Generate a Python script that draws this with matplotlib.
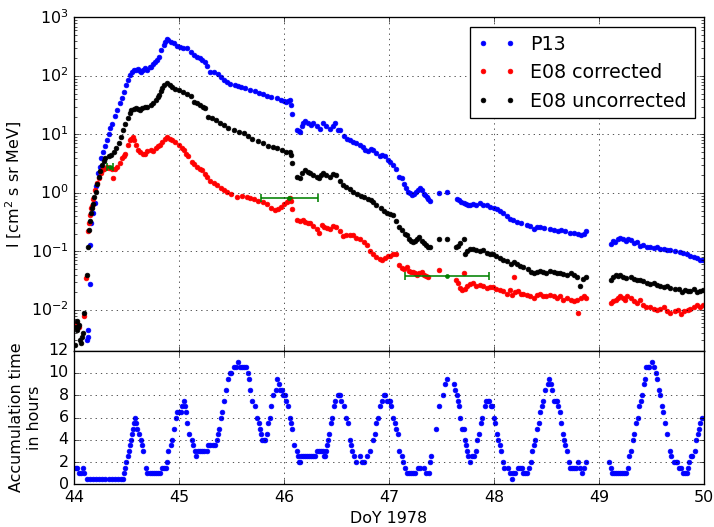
import matplotlib
matplotlib.use("Agg")
import matplotlib.pyplot as plt
import numpy as np

# P13 intensities (blue)
p13_doy = [44.12, 44.13, 44.135, 44.15, 44.155, 44.16, 44.18, 44.20, 44.21, 44.23, 44.245, 44.26, 44.28, 44.30,
           44.31, 44.33, 44.34, 44.36, 44.39, 44.41, 44.44, 44.46, 44.48, 44.50, 44.51, 44.53, 44.55, 44.57, 44.59,
           44.61, 44.63, 44.64, 44.66, 44.68, 44.70, 44.72, 44.73, 44.75, 44.77, 44.79, 44.81, 44.83, 44.855, 44.87,
           44.89, 44.90, 44.92, 44.95, 44.98, 45.01, 45.04, 45.08, 45.11, 45.14, 45.17, 45.20, 45.22, 45.25, 45.27,
           45.30, 45.33, 45.37, 45.40, 45.43, 45.46, 45.49, 45.53, 45.56, 45.59, 45.63, 45.68, 45.72, 45.76, 45.80,
           45.84, 45.88, 45.93, 45.97, 46.00, 46.02, 46.04, 46.06, 46.07, 46.08, 46.12, 46.14, 46.15, 46.17, 46.18,
           46.20, 46.23, 46.26, 46.28, 46.31, 46.34, 46.37, 46.40, 46.44, 46.47, 46.49, 46.51, 46.53, 46.57, 46.60,
           46.63, 46.66, 46.69, 46.72, 46.75, 46.77, 46.80, 46.83, 46.85, 46.88, 46.91, 46.93, 46.96, 46.99, 47.01,
           47.04, 47.07, 47.10, 47.12, 47.14, 47.16, 47.18, 47.20, 47.22, 47.24, 47.26, 47.28, 47.30, 47.31, 47.33,
           47.34, 47.36, 47.37, 47.39, 47.48, 47.55, 47.65, 47.67, 47.69, 47.71, 47.73, 47.75, 47.77, 47.80, 47.83,
           47.87, 47.90, 47.93, 47.96, 48.00, 48.03, 48.06, 48.09, 48.12, 48.15, 48.18, 48.22, 48.26, 48.31, 48.34,
           48.38, 48.41, 48.44, 48.48, 48.53, 48.57, 48.61, 48.64, 48.68, 48.72, 48.76, 48.80, 48.83, 48.86, 48.88,
           49.11, 49.13, 49.15, 49.18, 49.20, 49.23, 49.26, 49.28, 49.30, 49.33, 49.36, 49.39, 49.42, 49.46, 49.49,
           49.52, 49.55, 49.58, 49.62, 49.65, 49.68, 49.72, 49.77, 49.80, 49.84, 49.87, 49.90, 49.93, 49.96, 49.99]
p13_flux = [0.003, 0.0035, 0.0045, 0.028, 0.13, 0.30, 0.45, 0.66, 1.3, 2.2, 2.8, 4.0, 5.0, 6.3,
            7.9, 10, 13, 15, 21, 26, 35, 42, 54, 70, 85, 105, 117, 125, 129,
            132, 120, 117, 128, 135, 125, 140, 145, 160, 170, 185, 214, 280, 339, 380,
            427, 410, 380, 363, 330, 316, 300, 295, 260, 229, 215, 200, 190, 174, 150,
            117, 115, 110, 95, 85, 80, 74, 70, 68, 66, 62, 58, 55, 52, 50,
            46, 44, 42, 39, 37, 36, 38, 39, 32, 22, 12, 11.5, 11, 14, 16,
            17, 15.5, 14.5, 15.5, 14, 12.6, 16, 14, 12.6, 14, 15.5, 12, 11.7, 9.5, 8.5,
            8, 7.4, 7.0, 6.6, 6.0, 5.4, 5.2, 5.6, 5.4, 4.8, 4.2, 4.5, 4.2, 3.7, 3.4,
            3.0, 2.6, 1.9, 1.8, 1.4, 1.2, 1.05, 1.0, 0.91, 0.95, 1.05, 1.1, 1.2, 1.1, 0.95,
            0.91, 0.85, 0.8, 0.74, 1.0, 1.05, 0.79, 0.75, 0.70, 0.66, 0.64, 0.62, 0.62, 0.64, 0.62,
            0.66, 0.63, 0.62, 0.58, 0.56, 0.54, 0.50, 0.45, 0.40, 0.36, 0.34, 0.32, 0.30, 0.28, 0.27,
            0.245, 0.26, 0.26, 0.25, 0.245, 0.23, 0.22, 0.23, 0.22, 0.21, 0.21, 0.20, 0.19, 0.20, 0.22,
            0.135, 0.15, 0.145, 0.16, 0.17, 0.16, 0.15, 0.16, 0.155, 0.14, 0.145, 0.126, 0.13, 0.12, 0.12,
            0.115, 0.12, 0.112, 0.11, 0.105, 0.105, 0.10, 0.098, 0.095, 0.09, 0.085, 0.08, 0.078, 0.071, 0.07]

# E08 corrected (red)
e08c_doy = [44.02, 44.03, 44.05, 44.10, 44.11, 44.13, 44.14, 44.15, 44.16, 44.17, 44.18, 44.20, 44.22, 44.24,
            44.26, 44.27, 44.29, 44.31, 44.33, 44.36, 44.37, 44.39, 44.41, 44.44, 44.46, 44.48, 44.49, 44.51,
            44.53, 44.54, 44.56, 44.57, 44.59, 44.61, 44.63, 44.66, 44.68, 44.70, 44.73, 44.75, 44.78, 44.80,
            44.82, 44.84, 44.87, 44.89, 44.91, 44.93, 44.96, 45.00, 45.03, 45.05, 45.07, 45.09, 45.12, 45.14,
            45.17, 45.20, 45.22, 45.25, 45.27, 45.30, 45.33, 45.36, 45.40, 45.43, 45.46, 45.50, 45.55, 45.60,
            45.65, 45.68, 45.71, 45.75, 45.80, 45.84, 45.88, 45.91, 45.94, 45.97, 46.00, 46.03, 46.05, 46.06,
            46.07, 46.08, 46.12, 46.15, 46.18, 46.20, 46.23, 46.25, 46.28, 46.31, 46.33, 46.36, 46.38, 46.41,
            46.44, 46.47, 46.50, 46.53, 46.56, 46.59, 46.63, 46.66, 46.69, 46.72, 46.76, 46.79, 46.82, 46.85,
            46.88, 46.91, 46.93, 46.96, 46.99, 47.01, 47.04, 47.07, 47.10, 47.12, 47.14, 47.17, 47.19, 47.21,
            47.23, 47.25, 47.27, 47.29, 47.31, 47.33, 47.35, 47.37, 47.48, 47.64, 47.66, 47.68, 47.70, 47.71,
            47.72, 47.74, 47.77, 47.80, 47.83, 47.87, 47.90, 47.93, 47.96, 47.99, 48.02, 48.06, 48.09, 48.12,
            48.15, 48.17, 48.19, 48.20, 48.23, 48.26, 48.28, 48.31, 48.34, 48.38, 48.41, 48.44, 48.47, 48.50,
            48.53, 48.57, 48.60, 48.63, 48.66, 48.70, 48.73, 48.76, 48.79, 48.80, 48.83, 48.86, 48.88,
            49.11, 49.13, 49.16, 49.18, 49.20, 49.23, 49.25, 49.27, 49.30, 49.33, 49.36, 49.39, 49.42, 49.45,
            49.49, 49.52, 49.55, 49.58, 49.62, 49.65, 49.68, 49.72, 49.75, 49.78, 49.81, 49.85, 49.87, 49.90,
            49.93, 49.96, 49.99]
e08c_flux = [0.005, 0.006, 0.005, 0.008, 0.035, 0.22, 0.30, 0.42, 0.55, 0.6, 0.8, 1.1, 1.5, 1.8,
             2.2, 2.45, 2.6, 2.8, 2.7, 2.6, 1.8, 2.6, 2.8, 3.2, 3.9, 4.3, 4.7, 6.6,
             8.0, 8.5, 9.1, 8.0, 6.6, 5.5, 5.0, 4.7, 4.7, 5.2, 5.4, 5.2, 5.8, 6.3,
             6.6, 7.4, 8.5, 8.9, 8.3, 7.9, 7.4, 6.6, 5.8, 5.4, 4.7, 4.3, 3.4, 3.1,
             2.8, 2.6, 2.45, 2.1, 1.86, 1.6, 1.45, 1.35, 1.2, 1.1, 1.05, 0.95, 0.85, 0.87,
             0.85, 0.82, 0.78, 0.74, 0.71, 0.65, 0.56, 0.52, 0.54, 0.58, 0.64, 0.70, 0.76, 0.83,
             0.74, 0.54, 0.34, 0.33, 0.35, 0.32, 0.30, 0.30, 0.27, 0.24, 0.21, 0.28, 0.26, 0.25,
             0.245, 0.27, 0.26, 0.22, 0.18, 0.19, 0.19, 0.19, 0.17, 0.16, 0.145, 0.13, 0.10, 0.091,
             0.08, 0.075, 0.071, 0.078, 0.082, 0.085, 0.089, 0.091, 0.058, 0.052, 0.050, 0.054, 0.047, 0.045,
             0.045, 0.042, 0.040, 0.042, 0.044, 0.040, 0.038, 0.036, 0.048, 0.032, 0.029, 0.024, 0.022, 0.042,
             0.023, 0.026, 0.028, 0.029, 0.026, 0.027, 0.026, 0.024, 0.025, 0.025, 0.023, 0.022, 0.021, 0.019,
             0.022, 0.018, 0.036, 0.020, 0.021, 0.019, 0.019, 0.018, 0.017, 0.016, 0.018, 0.019, 0.017, 0.017,
             0.018, 0.017, 0.016, 0.017, 0.015, 0.016, 0.015, 0.014, 0.015, 0.009, 0.016, 0.017, 0.016,
             0.013, 0.014, 0.015, 0.016, 0.017, 0.016, 0.015, 0.017, 0.016, 0.014, 0.013, 0.0145, 0.012, 0.011,
             0.011, 0.0105, 0.010, 0.0105, 0.011, 0.0095, 0.009, 0.0095, 0.010, 0.0085, 0.0095, 0.010, 0.0105, 0.011,
             0.012, 0.011, 0.012]

# E08 uncorrected (black)
e08u_doy = [44.01, 44.02, 44.025, 44.03, 44.04, 44.05, 44.06, 44.07, 44.08, 44.09, 44.10, 44.12, 44.13, 44.14,
            44.15, 44.16, 44.17, 44.18, 44.19, 44.21, 44.22, 44.24, 44.25, 44.27, 44.29, 44.30, 44.33, 44.35,
            44.38, 44.40, 44.43, 44.45, 44.47, 44.49, 44.51, 44.53, 44.54, 44.57, 44.59, 44.61, 44.63, 44.65,
            44.68, 44.70, 44.73, 44.75, 44.78, 44.80, 44.81, 44.83, 44.84, 44.86, 44.89, 44.91, 44.93, 44.96,
            45.00, 45.04, 45.08, 45.11, 45.14, 45.17, 45.20, 45.23, 45.25, 45.28, 45.31, 45.35, 45.39, 45.43,
            45.47, 45.52, 45.57, 45.62, 45.66, 45.70, 45.75, 45.80, 45.85, 45.90, 45.93, 45.98, 46.02, 46.06,
            46.07, 46.08, 46.12, 46.15, 46.17, 46.20, 46.23, 46.25, 46.28, 46.31, 46.33, 46.35, 46.37, 46.40,
            46.44, 46.47, 46.50, 46.53, 46.56, 46.59, 46.63, 46.66, 46.70, 46.73, 46.76, 46.80, 46.83, 46.85,
            46.88, 46.92, 46.95, 46.98, 47.01, 47.04, 47.07, 47.10, 47.12, 47.15, 47.17, 47.19, 47.21, 47.23,
            47.25, 47.27, 47.29, 47.31, 47.33, 47.35, 47.37, 47.39, 47.48, 47.55, 47.64, 47.66, 47.68, 47.71,
            47.72, 47.74, 47.77, 47.80, 47.83, 47.87, 47.90, 47.93, 47.96, 47.99, 48.02, 48.06, 48.09, 48.12,
            48.16, 48.19, 48.22, 48.25, 48.28, 48.32, 48.35, 48.38, 48.41, 48.44, 48.47, 48.50, 48.53, 48.57,
            48.60, 48.63, 48.66, 48.70, 48.73, 48.76, 48.79, 48.82, 48.85, 48.88,
            49.11, 49.13, 49.16, 49.18, 49.20, 49.23, 49.26, 49.30, 49.33, 49.36, 49.39, 49.42, 49.46, 49.49,
            49.52, 49.55, 49.58, 49.62, 49.65, 49.68, 49.72, 49.76, 49.79, 49.82, 49.85, 49.87, 49.90, 49.93,
            49.96, 49.99]
e08u_flux = [0.0025, 0.005, 0.0045, 0.0065, 0.005, 0.0055, 0.003, 0.0027, 0.0035, 0.004, 0.009, 0.039, 0.12, 0.23,
             0.33, 0.45, 0.55, 0.65, 0.85, 1.05, 1.4, 1.9, 2.4, 3.0, 3.5, 3.9, 4.2, 4.5,
             5.0, 5.8, 7.1, 9, 11.7, 15, 19, 23, 26, 27, 28, 27, 26, 28,
             30, 30, 32, 35, 39, 43, 47, 55, 62, 70, 76, 70, 66, 60,
             58, 54, 50, 45, 36, 34, 32, 30, 28, 20, 19, 17.4, 16, 14.5,
             13, 11.7, 11, 10.5, 9.5, 8.5, 7.8, 7.1, 6.4, 6.0, 5.8, 5.4, 5.1, 5.0,
             4.5, 3.3, 1.9, 1.8, 2.2, 2.45, 2.3, 2.15, 2.0, 1.9, 1.8, 2.0, 2.15, 2.0,
             1.85, 2.1, 2.0, 1.6, 1.35, 1.25, 1.15, 1.05, 0.95, 0.90, 0.85, 0.78, 0.75, 0.71,
             0.62, 0.56, 0.50, 0.46, 0.43, 0.42, 0.33, 0.26, 0.23, 0.20, 0.19, 0.16, 0.15, 0.145,
             0.15, 0.16, 0.175, 0.15, 0.14, 0.13, 0.12, 0.12, 0.16, 0.16, 0.12, 0.125, 0.14, 0.16,
             0.09, 0.10, 0.11, 0.11, 0.105, 0.10, 0.105, 0.095, 0.09, 0.09, 0.085, 0.078, 0.07, 0.068,
             0.062, 0.066, 0.06, 0.057, 0.054, 0.05, 0.045, 0.042, 0.044, 0.046, 0.045, 0.043, 0.047, 0.045,
             0.043, 0.042, 0.041, 0.040, 0.042, 0.039, 0.036, 0.026, 0.034, 0.036,
             0.032, 0.036, 0.040, 0.038, 0.039, 0.037, 0.035, 0.036, 0.034, 0.033, 0.032, 0.031, 0.029, 0.028,
             0.029, 0.027, 0.026, 0.025, 0.026, 0.024, 0.023, 0.023, 0.020, 0.022, 0.021, 0.021, 0.023, 0.020,
             0.021, 0.022]

# time-averaged points with averaging window (green)
avg_doy = [44.34, 46.05, 47.55]
avg_flux = [2.8, 0.83, 0.038]
avg_halfwidth = [0.03, 0.27, 0.40]

# accumulation time (hours)
acc_doy = [44.00, 44.02, 44.03, 44.05, 44.07, 44.09, 44.10, 44.12, 44.15, 44.18, 44.21, 44.24, 44.27, 44.30,
           44.33, 44.36, 44.39, 44.42, 44.45, 44.47, 44.48, 44.49, 44.50, 44.51, 44.52, 44.53, 44.54, 44.55,
           44.56, 44.57, 44.58, 44.59, 44.60, 44.62, 44.64, 44.65, 44.66, 44.69, 44.70, 44.72, 44.74, 44.76,
           44.78, 44.80, 44.82, 44.84, 44.86, 44.88, 44.89, 44.90, 44.92, 44.93, 44.95, 44.97, 44.98, 45.00,
           45.02, 45.03, 45.05, 45.06, 45.07, 45.08, 45.10, 45.12, 45.13, 45.15, 45.16, 45.18, 45.20, 45.22,
           45.24, 45.27, 45.28, 45.30, 45.32, 45.34, 45.36, 45.37, 45.38, 45.40, 45.41, 45.43, 45.45, 45.47,
           45.49, 45.50, 45.52, 45.54, 45.56, 45.58, 45.60, 45.62, 45.64, 45.66, 45.67, 45.68, 45.70, 45.72,
           45.74, 45.76, 45.77, 45.78, 45.79, 45.81, 45.82, 45.84, 45.85, 45.87, 45.88, 45.90, 45.92, 45.93,
           45.95, 45.96, 45.98, 45.99, 46.01, 46.02, 46.04, 46.06, 46.07, 46.08, 46.10, 46.12, 46.13, 46.14,
           46.15, 46.16, 46.18, 46.20, 46.22, 46.24, 46.26, 46.28, 46.30, 46.31, 46.33, 46.35, 46.37, 46.38,
           46.39, 46.40, 46.41, 46.42, 46.43, 46.45, 46.46, 46.48, 46.49, 46.51, 46.52, 46.53, 46.54, 46.57,
           46.59, 46.61, 46.63, 46.64, 46.65, 46.67, 46.69, 46.72, 46.74, 46.76, 46.79, 46.82, 46.85, 46.87,
           46.88, 46.90, 46.91, 46.93, 46.95, 46.96, 46.98, 47.00, 47.01, 47.02, 47.04, 47.06, 47.07, 47.09,
           47.10, 47.12, 47.13, 47.15, 47.17, 47.19, 47.21, 47.23, 47.25, 47.28, 47.30, 47.33, 47.35, 47.38,
           47.39, 47.40, 47.45, 47.48, 47.51, 47.53, 47.55, 47.62, 47.63, 47.65, 47.66, 47.67, 47.68, 47.70,
           47.71, 47.72, 47.73, 47.74, 47.75, 47.77, 47.79, 47.81, 47.83, 47.84, 47.86, 47.88, 47.89, 47.91,
           47.92, 47.94, 47.95, 47.97, 47.98, 48.00, 48.01, 48.03, 48.04, 48.06, 48.07, 48.09, 48.10, 48.13,
           48.15, 48.17, 48.18, 48.20, 48.23, 48.25, 48.27, 48.28, 48.30, 48.31, 48.33, 48.35, 48.36, 48.38,
           48.39, 48.41, 48.43, 48.44, 48.46, 48.47, 48.49, 48.51, 48.52, 48.54, 48.55, 48.57, 48.59, 48.60,
           48.61, 48.63, 48.64, 48.66, 48.67, 48.68, 48.70, 48.71, 48.72, 48.74, 48.76, 48.78, 48.80, 48.82,
           48.84, 48.86, 48.88,
           49.10, 49.11, 49.12, 49.14, 49.16, 49.18, 49.20, 49.22, 49.24, 49.26, 49.28, 49.29, 49.30, 49.32,
           49.33, 49.35, 49.37, 49.38, 49.40, 49.41, 49.43, 49.44, 49.45, 49.47, 49.48, 49.50, 49.52, 49.54,
           49.55, 49.57, 49.58, 49.60, 49.61, 49.63, 49.65, 49.68, 49.69, 49.71, 49.73, 49.74, 49.76, 49.78,
           49.80, 49.82, 49.84, 49.85, 49.86, 49.88, 49.89, 49.91, 49.92, 49.94, 49.95, 49.96, 49.98]
acc_hours = [1.5, 1.5, 1.5, 1.0, 1.0, 1.5, 1.0, 0.5, 0.5, 0.5, 0.5, 0.5, 0.5, 0.5,
             0.5, 0.5, 0.5, 0.5, 0.5, 0.5, 1.0, 1.5, 2.0, 2.5, 3.0, 3.5, 4.0, 4.5,
             5.0, 5.5, 6.0, 5.5, 5.0, 4.5, 4.0, 3.5, 3.0, 1.5, 1.0, 1.0, 1.0, 1.0,
             1.0, 1.0, 1.0, 1.5, 1.5, 1.5, 2.0, 3.0, 3.5, 4.0, 5.0, 6.0, 6.5, 6.5,
             6.5, 7.0, 7.5, 7.0, 6.5, 5.5, 4.5, 4.0, 3.5, 3.0, 2.5, 3.0, 3.0, 3.0,
             3.0, 3.0, 3.5, 3.5, 3.5, 3.5, 4.0, 4.5, 5.0, 6.0, 6.5, 7.5, 8.5, 9.5,
             10.0, 10.0, 10.5, 10.5, 11.0, 10.5, 10.5, 10.5, 10.5, 10.0, 9.5, 8.5, 7.5, 7.0,
             6.0, 5.5, 5.0, 4.5, 4.0, 4.0, 4.0, 4.5, 5.5, 6.0, 7.0, 8.0, 8.5, 9.5,
             9.0, 8.5, 8.5, 8.0, 8.0, 7.5, 7.0, 6.0, 5.5, 5.0, 3.5, 3.0, 2.5, 2.0,
             2.0, 2.5, 2.5, 2.5, 2.5, 2.5, 2.5, 2.5, 2.5, 3.0, 3.0, 3.0, 3.0, 2.5,
             2.5, 3.0, 3.5, 4.0, 4.5, 5.5, 6.0, 7.0, 7.5, 8.0, 8.0, 8.0, 7.5, 7.0,
             6.0, 5.5, 4.0, 3.5, 3.0, 2.5, 2.0, 2.5, 2.0, 2.0, 2.5, 3.0, 4.0, 4.5,
             5.5, 6.0, 7.0, 7.5, 8.0, 8.0, 7.5, 7.5, 7.5, 7.0, 6.0, 5.5, 5.0, 4.5,
             3.0, 2.5, 2.0, 1.5, 1.0, 1.0, 1.0, 1.0, 1.0, 1.5, 1.5, 1.5, 1.0, 1.0,
             2.0, 2.5, 5.0, 7.0, 8.0, 9.0, 9.5, 9.0, 8.5, 8.0, 7.5, 7.0, 6.0, 5.0,
             5.0, 4.0, 3.5, 3.0, 2.5, 2.0, 2.5, 2.5, 3.0, 4.0, 4.5, 5.5, 6.0, 7.0,
             7.5, 7.5, 7.5, 7.0, 7.0, 6.0, 5.5, 4.5, 4.0, 3.5, 3.0, 2.0, 1.5, 1.5,
             1.0, 0.5, 1.0, 1.0, 1.5, 1.5, 1.5, 1.0, 1.0, 1.0, 1.5, 2.0, 3.0, 3.5,
             4.0, 5.0, 5.5, 6.5, 7.0, 7.5, 8.5, 9.0, 9.5, 9.0, 8.5, 7.5, 7.5, 7.5,
             7.0, 6.5, 5.5, 4.5, 4.0, 3.5, 3.0, 2.0, 1.5, 1.5, 1.5, 1.5, 2.0, 1.5,
             1.0, 1.5, 2.0,
             2.0, 1.5, 1.0, 1.0, 1.0, 1.0, 1.0, 1.0, 1.0, 1.0, 1.5, 2.5, 3.0, 4.0,
             4.5, 5.5, 6.0, 7.0, 7.5, 8.0, 9.0, 9.5, 10.5, 10.5, 10.5, 11.0, 10.5, 10.0,
             9.5, 8.5, 8.0, 7.0, 6.5, 5.5, 4.5, 3.0, 2.5, 2.0, 2.0, 2.0, 1.5, 1.5,
             1.0, 1.0, 1.0, 1.5, 2.0, 2.5, 2.5, 3.0, 4.0, 4.5, 5.0, 5.5, 6.0]

plt.style.use('classic')
plt.rcParams['mathtext.fontset'] = 'dejavusans'

dpi = 95
fig = plt.figure(figsize=(714.0 / dpi, 527.0 / dpi), dpi=dpi, facecolor='white')
ax1 = fig.add_axes([0.1036, 0.3345, 0.8824, 0.6323])
ax2 = fig.add_axes([0.1036, 0.081, 0.8824, 0.2535], sharex=ax1)

ms = 3.6
ax1.plot(p13_doy, p13_flux, 'o', color='b', mec='b', ms=ms, label='P13')
ax1.plot(e08c_doy, e08c_flux, 'o', color='r', mec='r', ms=ms, label='E08 corrected')
ax1.plot(e08u_doy, e08u_flux, 'o', color='k', mec='k', ms=ms, label='E08 uncorrected')
ax1.errorbar(avg_doy, avg_flux, xerr=avg_halfwidth, fmt='o', color='g', mec='g', ms=3,
             capsize=3, capthick=1.2, elinewidth=1.2)
ax1.set_yscale('log')
ax1.set_ylim(0.002, 1000)
ax1.set_ylabel('I [cm$^2$ s sr MeV]')
ax1.grid(True)
ax1.legend(loc='upper right', numpoints=2, fontsize='large')
plt.setp(ax1.get_xticklabels(), visible=False)

ax2.plot(acc_doy, acc_hours, 'o', color='b', mec='b', ms=ms)
ax2.set_xlim(44, 50)
ax2.set_ylim(0, 12)
ax2.set_yticks([0, 2, 4, 6, 8, 10, 12])
ax2.set_xlabel('DoY 1978')
ax2.set_ylabel('Accumulation time\nin hours', multialignment='center')
ax2.grid(True)

fig.savefig('out.png', dpi=dpi, facecolor='white')
